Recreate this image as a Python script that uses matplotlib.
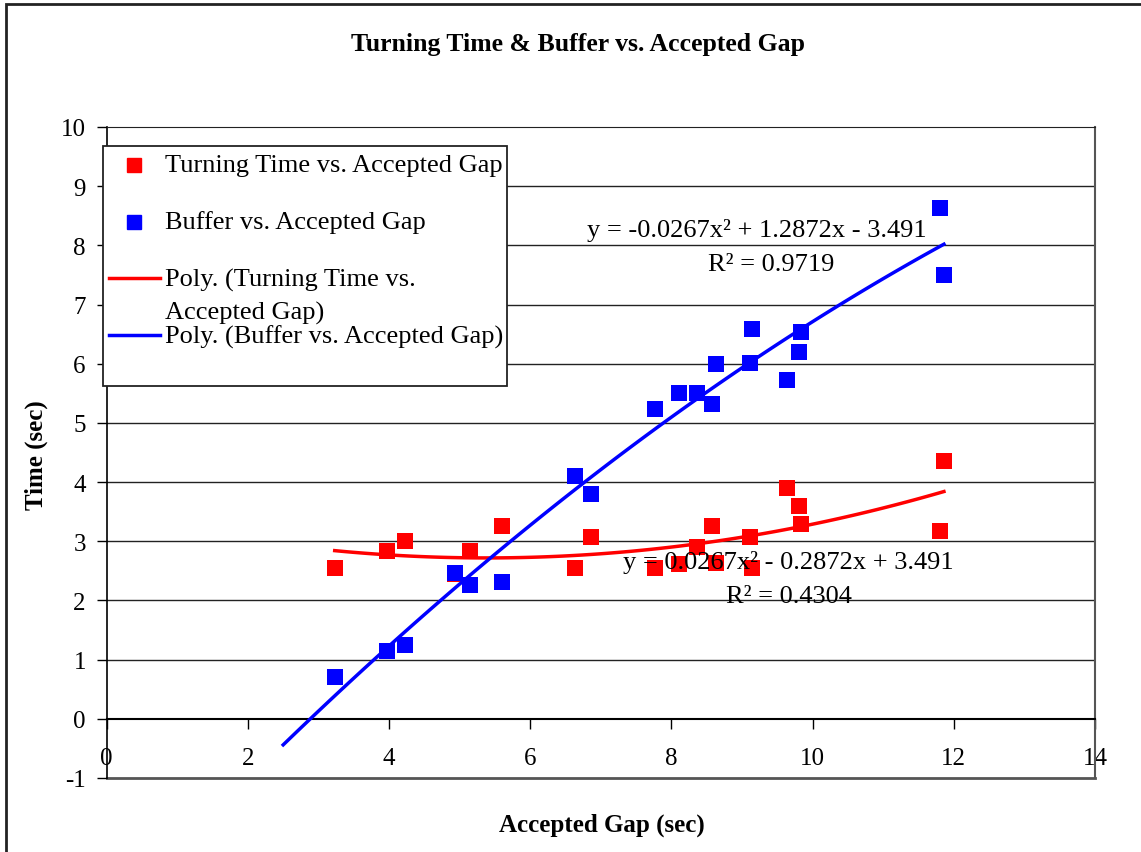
import numpy as np
import matplotlib
matplotlib.use("Agg")
import matplotlib.pyplot as plt
from matplotlib.patches import Rectangle
from matplotlib.lines import Line2D

plt.rcParams['font.family'] = ['Liberation Serif', 'DejaVu Serif']
plt.rcParams['axes.unicode_minus'] = False

# data
gap = [3.23, 3.97, 4.23, 4.94, 5.14, 5.60, 6.64, 6.86, 7.76, 8.11,
       8.36, 8.57, 8.63, 9.11, 9.14, 9.64, 9.80, 9.84, 11.80, 11.86]
turning = [2.55, 2.83, 3.00, 2.45, 2.83, 3.26, 2.55, 3.07, 2.54, 2.61,
           2.90, 3.25, 2.63, 3.07, 2.54, 3.90, 3.60, 3.30, 3.17, 4.36]
buffer = [0.70, 1.15, 1.25, 2.47, 2.26, 2.32, 4.10, 3.80, 5.23, 5.50,
          5.50, 5.32, 5.99, 6.02, 6.59, 5.73, 6.19, 6.53, 8.63, 7.50]

# trendline coefficients shown on the chart (a, b, c for ax^2 + bx + c)
turn_coef = [0.0267, -0.2872, 3.491]
buf_coef = [-0.0267, 1.2872, -3.491]
turn_r2 = 0.4304
buf_r2 = 0.9719
turn_range = (3.23, 11.86)
buf_range = (2.50, 11.86)

W, H = 1141, 853
fig = plt.figure(figsize=(W / 100, H / 100), dpi=100)
ax = fig.add_axes([106.7 / W, 1 - 779 / H, (1095 - 106.7) / W, (779 - 128) / H])


def px(x, y):
    # pixel position (from top-left) -> figure fraction
    return x / W, 1 - y / H


# outer chart frame
fig.patches.append(Rectangle((6 / W, -0.2), 2, 1 - 5 / H + 0.2, transform=fig.transFigure,
                             fill=False, edgecolor='#222222', lw=2))

ax.set_xlim(0, 14)
ax.set_ylim(-1, 10)

for yv in range(1, 10):
    ax.axhline(yv, color='#222222', lw=1, zorder=1)
ax.axhline(-1, color='#555555', lw=2, zorder=1, clip_on=False)

ax.scatter(gap, turning, marker='s', s=118, color='#ff0000', linewidths=0, zorder=3)
ax.scatter(gap, buffer, marker='s', s=118, color='#0000ff', linewidths=0, zorder=3)

xt = np.linspace(*turn_range, 100)
ax.plot(xt, np.polyval(turn_coef, xt), color='#ff0000', lw=2.5, zorder=4)
xb = np.linspace(*buf_range, 100)
ax.plot(xb, np.polyval(buf_coef, xb), color='#0000ff', lw=2.5, zorder=4)

ax.spines['bottom'].set_position(('data', 0))
ax.spines['bottom'].set_linewidth(1.5)
ax.spines['left'].set_linewidth(1.2)
ax.spines['top'].set_color('#222222')
ax.spines['right'].set_color('#555555')
ax.spines['right'].set_linewidth(1.5)

ax.set_xticks(range(0, 15, 2))
ax.set_yticks(range(-1, 11))
ax.tick_params(axis='x', direction='out', length=7, width=1, pad=13, labelsize=18)
ax.tick_params(axis='y', direction='out', length=7, width=1, pad=8, labelsize=18)

fig.text(*px(578, 45), 'Turning Time & Buffer vs. Accepted Gap', ha='center', va='center',
         fontsize=18.5, fontweight='bold')
fig.text(*px(602, 825), 'Accepted Gap (sec)', ha='center', va='center',
         fontsize=18, fontweight='bold')
fig.text(*px(36, 455), 'Time (sec)', ha='center', va='center', rotation=90,
         fontsize=18, fontweight='bold')

# trendline equations
fig.text(*px(757, 230), 'y = %.4fx² + %.4fx - %.3f' % (buf_coef[0], buf_coef[1], -buf_coef[2]),
         ha='center', va='center', fontsize=19)
fig.text(*px(771, 265), 'R² = %.4f' % buf_r2, ha='center', va='center', fontsize=19)
fig.text(*px(788, 562), 'y = %.4fx² - %.4fx + %.3f' % (turn_coef[0], -turn_coef[1], turn_coef[2]),
         ha='center', va='center', fontsize=19)
fig.text(*px(789, 597), 'R² = %.4f' % turn_r2, ha='center', va='center', fontsize=19)

# legend box built by hand to match the spacing
fig.patches.append(Rectangle(px(103, 387), 404 / W, 240 / H, transform=fig.transFigure,
                             facecolor='white', edgecolor='#222222', lw=1.3, zorder=5))
fig.lines.append(Line2D([134 / W], [1 - 166 / H], ls='none', marker='s', markersize=10.5,
                        color='#ff0000', transform=fig.transFigure, zorder=6))
fig.lines.append(Line2D([134 / W], [1 - 223 / H], ls='none', marker='s', markersize=10.5,
                        color='#0000ff', transform=fig.transFigure, zorder=6))
fig.lines.append(Line2D([109 / W, 160 / W], [1 - 279 / H] * 2, color='#ff0000', lw=2.5,
                        transform=fig.transFigure, zorder=6))
fig.lines.append(Line2D([109 / W, 160 / W], [1 - 336 / H] * 2, color='#0000ff', lw=2.5,
                        transform=fig.transFigure, zorder=6))
leg_rows = [(166, 'Turning Time vs. Accepted Gap'), (223, 'Buffer vs. Accepted Gap'),
            (280, 'Poly. (Turning Time vs.'), (313, 'Accepted Gap)'),
            (337, 'Poly. (Buffer vs. Accepted Gap)')]
for yy, s in leg_rows:
    fig.text(*px(165, yy), s, ha='left', va='center', fontsize=19, zorder=7)

fig.savefig('out.png', dpi=100)
